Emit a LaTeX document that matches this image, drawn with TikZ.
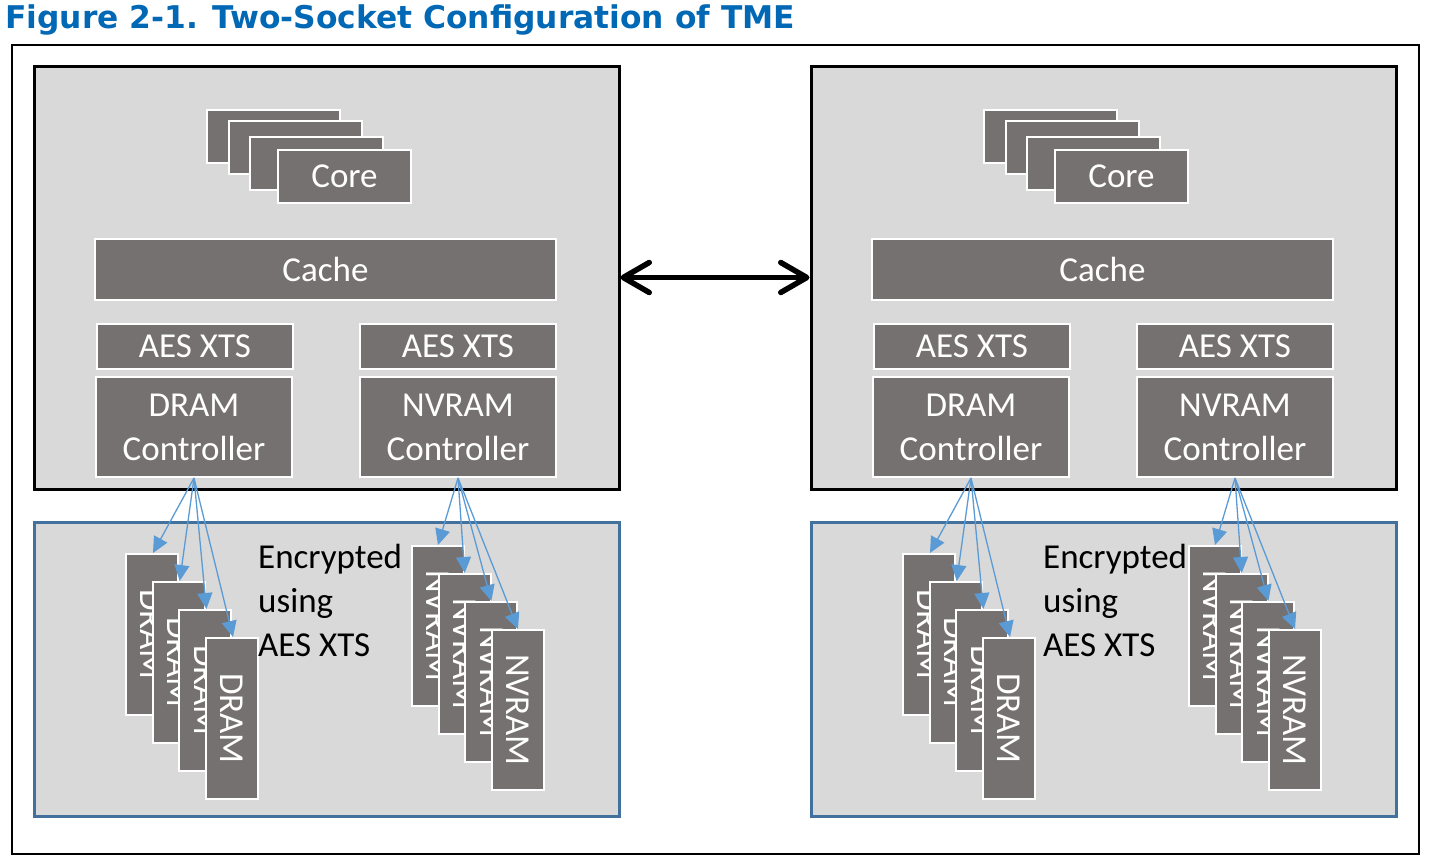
\documentclass[tikz,border=0pt]{standalone}
\usepackage{fontspec}
\setmainfont{Carlito}
\newfontfamily\titlefont{DejaVu Sans}
\usetikzlibrary{arrows.meta}
\definecolor{boxdark}{HTML}{767171}
\definecolor{boxgray}{HTML}{D9D9D9}
\definecolor{memblue}{HTML}{41719C}
\definecolor{arrblue}{HTML}{5B9BD5}
\definecolor{titleblue}{HTML}{0068B5}
\newcommand\sockfont{\fontsize{35}{44}\selectfont}
\tikzset{
  darkbox/.style={fill=boxdark, draw=white, line width=2pt, text=white, inner sep=0pt, font=\sockfont, align=center},
  sockbox/.style={fill=boxgray, draw=black, line width=3pt, inner sep=0pt},
  membox/.style={fill=boxgray, draw=memblue, line width=3pt, inner sep=0pt},
  memarrow/.style={draw=arrblue, line width=1.3pt, -{Triangle[length=16pt,width=15pt]}},
  linkarrow/.style={line width=5.5pt, {Straight Barb[length=26pt,width=30pt,round]}-{Straight Barb[length=26pt,width=30pt,round]}},
  enctext/.style={anchor=base west, inner sep=0pt, font=\sockfont, text=black}
}
\newcommand\drawsocket[3]{%
\begin{scope}[xshift=#2pt]
  \node[sockbox, minimum width=585pt, minimum height=423pt] (#1sock) at (326.5,277.5) {};
  \node[darkbox, minimum width=133pt, minimum height=53pt] (#1c1) at (273.5,136) {};
  \node[darkbox, minimum width=133pt, minimum height=53pt] (#1c2) at (295.5,147.5) {};
  \node[darkbox, minimum width=133pt, minimum height=53pt] (#1c3) at (316.5,163.5) {};
  \node[darkbox, minimum width=133pt, minimum height=53pt] (#1c4) at (344.5,176.5) {Core};
  \node[darkbox, minimum width=461pt, minimum height=61pt] (#1cache) at (325.5,269.5) {Cache};
  \node[darkbox, minimum width=196pt, minimum height=45pt] (#1aes1) at (195,346.5) {AES XTS};
  \node[darkbox, minimum width=196pt, minimum height=45pt] (#1aes2) at (458,346.5) {AES XTS};
  \node[darkbox, minimum width=196pt, minimum height=100pt] (#1dctl) at (194,427) {\raisebox{-2pt}{DRAM}\\\raisebox{-2pt}{Controller}};
  \node[darkbox, minimum width=196pt, minimum height=100pt] (#1nctl) at (458,427) {\raisebox{-2pt}{NVRAM}\\\raisebox{-2pt}{Controller}};
  \node[membox, minimum width=585pt, minimum height=294pt] (#1mem) at (326.5,669) {};
  \node[darkbox, minimum width=52pt, minimum height=161pt] (#1d1) at (152,634.5) {\rotatebox{-90}{DRAM}};
  \node[darkbox, minimum width=52pt, minimum height=161pt] (#1d2) at (178.7,662.5) {\rotatebox{-90}{DRAM}};
  \node[darkbox, minimum width=52pt, minimum height=161pt] (#1d3) at (205.4,690.5) {\rotatebox{-90}{DRAM}};
  \node[darkbox, minimum width=52pt, minimum height=161pt] (#1d4) at (232,718.5) {\rotatebox{-90}{DRAM}};
  \node[darkbox, minimum width=52pt, minimum height=160pt] (#1n1) at (438,626) {\rotatebox{-90}{NVRAM}};
  \node[darkbox, minimum width=52pt, minimum height=160pt] (#1n2) at (464.7,654) {\rotatebox{-90}{NVRAM}};
  \node[darkbox, minimum width=52pt, minimum height=160pt] (#1n3) at (491.4,682) {\rotatebox{-90}{NVRAM}};
  \node[darkbox, minimum width=52pt, minimum height=160pt] (#1n4) at (518,710) {\rotatebox{-90}{NVRAM}};
  \node[enctext] (#1e1) at (#3,568) {Encrypted};
  \node[enctext] (#1e2) at (#3,612) {using};
  \node[enctext] (#1e3) at (#3,656) {AES XTS};
  \foreach \k in {1,2,3,4}{
    \draw[memarrow] (#1dctl.south) -- ([xshift=28pt]#1d\k.north west);
    \draw[memarrow] (#1nctl.south) -- ([xshift=27pt]#1n\k.north west);
  }
\end{scope}}
\begin{document}
\begin{tikzpicture}[x=1pt,y=-1pt]
  \useasboundingbox (0,0) rectangle (1430,862);
  \fill[white] (0,0) rectangle (1430,862);
  \node[anchor=base west, inner sep=0pt, text=titleblue, font=\titlefont\bfseries\fontsize{31.3}{31.3}\selectfont] (title) at (5,28) {Figure 2-1. Two-Socket Configuration of TME};
  \draw[line width=2pt, black] (12,45) rectangle (1419,854);
  \drawsocket{L}{0}{258}
  \drawsocket{R}{777}{266}
  \draw[linkarrow] (Lsock.east) -- (Rsock.west);
\end{tikzpicture}
\end{document}
